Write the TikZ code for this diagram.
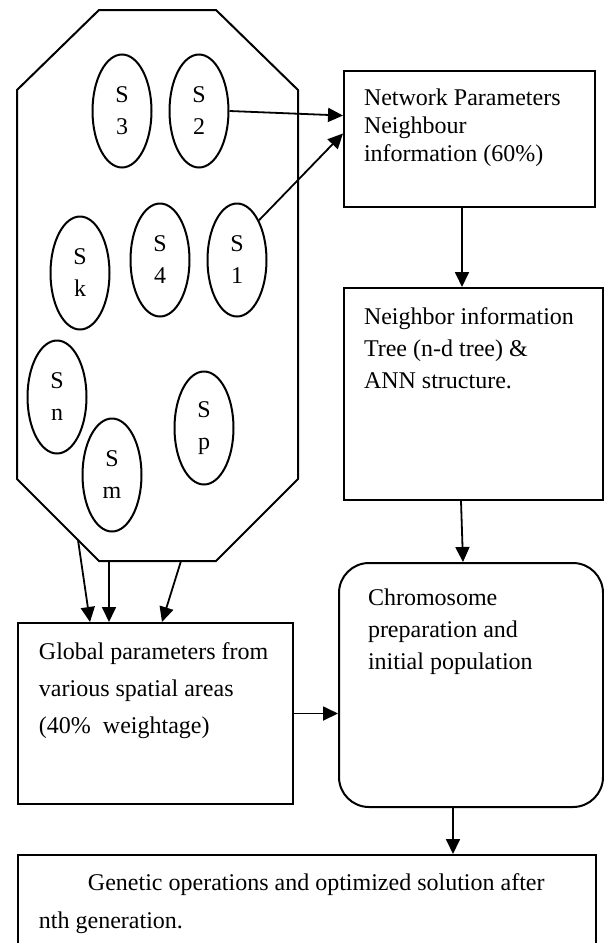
\documentclass[tikz,border=0pt]{standalone}
\usepackage{fontspec}
\setmainfont{Liberation Serif}
\usetikzlibrary{arrows.meta,positioning,shapes.geometric,calc}

% text block of a box: width, height, line spacing, text
\newcommand{\boxtxt}[4]{\parbox[c][#2][t]{#1}{\fontsize{12pt}{#3}\selectfont\raggedright #4}}

\begin{document}
\begin{tikzpicture}[
  x=0.5pt, y=-0.5pt,
  box/.style={draw, line width=1pt, anchor=north west, inner xsep=10pt, inner ysep=9pt},
  sensor/.style={draw, ellipse, line width=1pt, minimum width=29.5pt, minimum height=56.5pt,
    inner sep=0pt, align=center, font=\fontsize{12pt}{16pt}\selectfont},
  arr/.style={-{Triangle[length=7.5pt,width=7pt]}, line width=0.9pt}
]
\useasboundingbox (0,0) rectangle (604,943);

% spatial area
\draw[line width=1pt] (99,10) -- (216,10) -- (298,90) -- (298,479) -- (216,561)
  -- (99,561) -- (17,479) -- (17,90) -- cycle;

\node[sensor] (s3) at (122,111) {S\\3};
\node[sensor] (s2) at (199,111) {S\\2};
\node[sensor] (sk) at (80,273) {S\\k};
\node[sensor] (s4) at (160,260) {S\\4};
\node[sensor] (s1) at (237,260) {S\\1};
\node[sensor] (sn) at (57,397) {S\\n};
\node[sensor] (sm) at (112,475) {S\\m};
\node[sensor] (sp) at (204,428) {S\\p};

\coordinate (o1) at (78,540);
\coordinate (o2) at (109,561);
\coordinate (o3) at (181,561);

% boxes
\node[box] (net) at (343,70) {\boxtxt{105.5pt}{50pt}{14pt}{Network Parameters\\Neighbour\\information (60\%)}};
\node[box, inner ysep=10pt] (nb) at (343,287) {\boxtxt{109.5pt}{86pt}{16pt}{Neighbor information\\Tree (n-d tree) \&\\ANN structure.}};
\node[box, rounded corners=15pt, inner xsep=14.5pt, inner ysep=13pt] (chr) at (338,562) {\boxtxt{103pt}{96pt}{16pt}{Chromosome\\preparation and\\initial population}};
\node[box, inner xsep=10.5pt, inner ysep=10pt] (glob) at (17,622) {\boxtxt{116.5pt}{70.5pt}{18.5pt}{Global parameters from\\various spatial areas\\(40\%\ \ weightage)}};
\node[box, inner xsep=10.5pt, inner ysep=9.5pt] (gen) at (17,854) {\boxtxt{268pt}{27pt}{19pt}{\hspace*{24.5pt}Genetic operations and optimized solution after\\nth generation.}};

% connectors
\draw[arr] (s2.east) -- ($(net.north west)!0.33!(net.south west)$);
\draw[arr] (s1.61) -- ($(net.north west)!0.46!(net.south west)$);
\draw[arr] ($(net.south west)+(119,0)$) coordinate (a1) -- (a1 |- nb.north);
\draw[arr] ($(nb.south west)+(118,0)$) -- ($(chr.north west)+(125,0)$);
\draw[arr] (o1) -- ($(glob.north west)+(73,0)$);
\draw[arr] (o2) -- (o2 |- glob.north);
\draw[arr] (o3) -- ($(glob.north west)+(145,0)$);
\draw[arr] (glob.east) -- (glob.east -| chr.west);
\draw[arr] ($(chr.south west)+(115,0)$) coordinate (a2) -- (a2 |- gen.north);
\end{tikzpicture}
\end{document}
